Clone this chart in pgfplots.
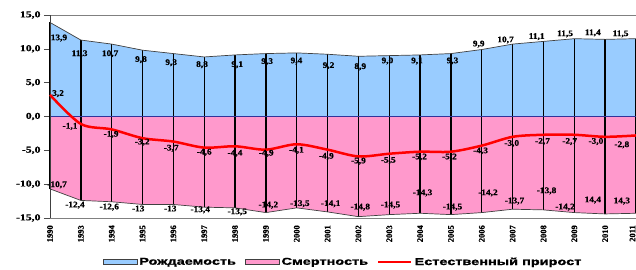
\documentclass[border=0pt]{standalone}
\usepackage{pgfplots}
\usepackage{pgfplotstable}
\pgfplotsset{compat=1.18}
\usepackage{fontspec}
\setmainfont{Liberation Serif}
\newfontfamily\tickfont[FakeStretch=1.3,FakeBold=0.6]{Liberation Serif}
\newfontfamily\lblfont[FakeStretch=1.1,FakeBold=0.6]{Liberation Serif}
\newfontfamily\xfont[FakeBold=0.5]{Liberation Serif}
\newfontfamily\legfont[FakeStretch=1.45,FakeBold=1.2]{Liberation Sans}
\definecolor{birth}{HTML}{99CCFF}
\definecolor{death}{HTML}{FF99CC}
\definecolor{zeroc}{HTML}{333399}

\pgfplotstableread{
x b d g
0 13.9 -10.7 3.2
1 11.3 -12.4 -1.1
2 10.7 -12.6 -1.9
3 9.8 -13.0 -3.2
4 9.3 -13.0 -3.7
5 8.8 -13.4 -4.6
6 9.1 -13.5 -4.4
7 9.3 -14.2 -4.9
8 9.4 -13.5 -4.1
9 9.2 -14.1 -4.9
10 8.9 -14.8 -5.9
11 9.0 -14.5 -5.5
12 9.1 -14.3 -5.2
13 9.3 -14.5 -5.2
14 9.9 -14.2 -4.3
15 10.7 -13.7 -3.0
16 11.1 -13.8 -2.7
17 11.5 -14.2 -2.7
18 11.4 -14.4 -3.0
19 11.5 -14.3 -2.8
}\data

\pgfplotstableread{
x y t
0.29 11.6 13,9
0.96 9.26 11,3
1.95 9.26 10,7
2.95 8.4 9,8
3.93 7.94 9,3
4.93 7.65 8,8
6.07 7.65 9,1
7.04 8.1 9,3
7.99 8.2 9,4
9.03 7.5 9,2
10.06 7.35 8,9
10.94 8.2 9,0
11.9 8.2 9,1
13.05 8.2 9,3
13.9 10.7 9,9
14.77 11.3 10,7
15.78 11.8 11,1
16.7 12.2 11,5
17.6 12.35 11,4
18.5 12.2 11,5
}\blabels

\pgfplotstableread{
x y t
0.26 3.38 3,2
0.65 -1.47 -1,1
1.98 -2.65 -1,9
2.99 -3.8 -3,2
3.93 -4.7 -3,7
5.0 -5.3 -4,6
6.0 -5.44 -4,4
7.01 -5.44 -4,9
7.99 -5.0 -4,1
8.96 -5.9 -4,9
10.0 -6.6 -5,9
10.97 -6.5 -5,5
11.98 -6.0 -5,2
12.95 -6.0 -5,2
13.96 -5.1 -4,3
14.97 -4.0 -3,0
15.97 -3.7 -2,7
16.85 -3.7 -2,7
17.7 -3.7 -3,0
18.54 -4.2 -2,8
}\glabels

\pgfplotstableread{
x y t
0.23 -10.1 -10,7
0.81 -13.1 -12,4
1.92 -13.4 -12,6
2.86 -13.6 -13
3.9 -13.6 -13
4.87 -13.8 -13,4
6.07 -14.1 -13,5
7.08 -13.1 -14,2
8.1 -12.9 -13,5
9.1 -12.9 -14,1
10.06 -13.4 -14,8
11.04 -13.1 -14,5
12.08 -11.3 -14,3
13.05 -13.4 -14,5
14.2 -11.3 -14,2
15.06 -12.5 -13,7
16.1 -11.0 -13,8
16.7 -13.4 -14,2
17.6 -12.35 14,4
18.54 -12.5 14,3
}\dlabels

\begin{document}
\begin{tikzpicture}
\begin{axis}[
  scale only axis, width=586pt, height=203pt,
  xmin=0, xmax=19, ymin=-15, ymax=15,
  clip=false,
  axis line style={draw=black!50, line width=0.8pt},
  ytick={-15,-10,...,15},
  ytick pos=left,
  tick align=outside,
  major tick length=6pt,
  ytick style={draw=black!70, line width=0.6pt},
  xtick={0,...,19},
  xticklabels={1990,1993,1994,1995,1996,1997,1998,1999,2000,2001,2002,2003,2004,2005,2006,2007,2008,2009,2010,{\raisebox{3.5pt}[\height][\depth]{2011}}},
  xtick style={draw=none},
  xticklabel style={rotate=90, anchor=east, font=\xfont\bfseries\fontsize{8.5}{9}\selectfont, inner sep=1pt},
  yticklabel style={font=\tickfont\bfseries\fontsize{9}{10}\selectfont},
  /pgf/number format/.cd, use comma, fixed, fixed zerofill, precision=1, assume math mode=true,
  /pgfplots/.cd,
  legend style={at={(0.5,-0.217)}, anchor=center, draw=none, fill=none,
    legend columns=3, font=\legfont\bfseries\fontsize{10}{11}\selectfont,
    /tikz/every even column/.append style={column sep=7pt},
    /tikz/every odd column/.append style={column sep=0pt},
    inner sep=0pt},
  legend cell align=left,
]
\addplot[fill=birth, draw=none, area legend,
  legend image code/.code={\draw[fill=birth, draw=black!75, line width=0.6pt] (0pt,-2.5pt) rectangle (34pt,2.5pt);}]
  table[x=x,y=b]{\data} \closedcycle;
\addlegendentry{Рождаемость}
\addplot[fill=death, draw=none, area legend,
  legend image code/.code={\draw[fill=death, draw=black!75, line width=0.6pt] (0pt,-2.5pt) rectangle (34pt,2.5pt);}]
  table[x=x,y=d]{\data} \closedcycle;
\addlegendentry{Смертность}
\addplot[ycomb, black, line width=1.4pt, forget plot] table[x=x,y=b]{\data};
\addplot[ycomb, black, line width=1.4pt, forget plot] table[x=x,y=d]{\data};
\addplot[black!75, line width=0.7pt, forget plot] table[x=x,y=b]{\data};
\addplot[black!75, line width=0.7pt, forget plot] table[x=x,y=d]{\data};
\addplot[zeroc, line width=1.3pt, forget plot] coordinates {(0,0) (19,0)};
\addplot[black!75, line width=1pt, forget plot] coordinates {(0,-15) (0,15)};
\addplot[red, line width=2.5pt, smooth,
  legend image code/.code={\draw[red, line width=2.5pt] (0pt,0pt) -- (33pt,0pt);}]
  table[x=x,y=g]{\data};
\addlegendentry{Естественный прирост}
\addplot[draw=none, forget plot, nodes near coords, point meta=explicit symbolic,
  nodes near coords style={anchor=center, inner sep=0pt, font=\lblfont\bfseries\fontsize{8.5}{9}\selectfont}]
  table[x=x,y=y,meta=t]{\blabels};
\addplot[draw=none, forget plot, nodes near coords, point meta=explicit symbolic,
  nodes near coords style={anchor=center, inner sep=0pt, font=\lblfont\bfseries\fontsize{8.5}{9}\selectfont}]
  table[x=x,y=y,meta=t]{\glabels};
\addplot[draw=none, forget plot, nodes near coords, point meta=explicit symbolic,
  nodes near coords style={anchor=center, inner sep=0pt, font=\lblfont\bfseries\fontsize{8.5}{9}\selectfont}]
  table[x=x,y=y,meta=t]{\dlabels};
\end{axis}
\pgfresetboundingbox
\path[use as bounding box] (-50pt,-51pt) rectangle (586pt,218pt);
\end{tikzpicture}
\end{document}
